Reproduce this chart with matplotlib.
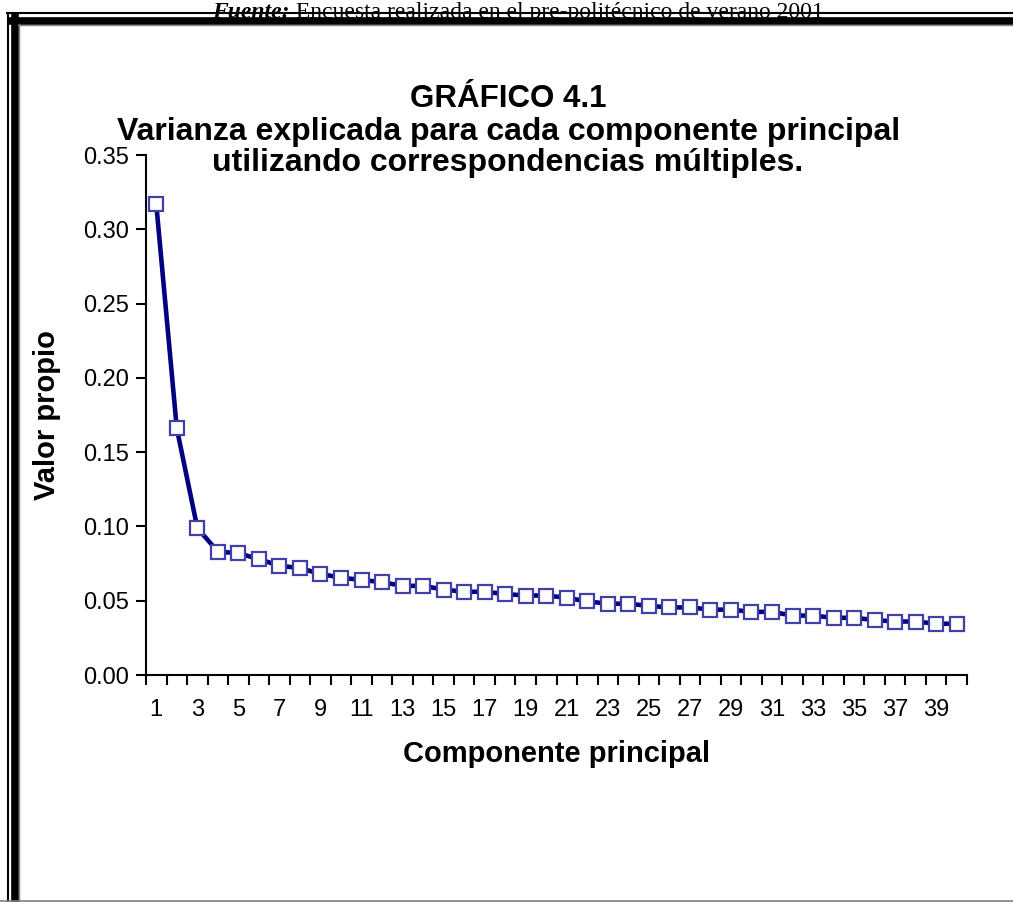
import matplotlib.pyplot as plt
from matplotlib.lines import Line2D
import numpy as np

# Valores propios (componentes 1..40)
componentes = np.arange(1, 41)
valor_propio = [0.317, 0.166, 0.099, 0.083, 0.082, 0.078, 0.0735, 0.072, 0.068, 0.0655,
                0.064, 0.0625, 0.060, 0.060, 0.0575, 0.056, 0.056, 0.0545, 0.0535, 0.0535,
                0.052, 0.0495, 0.048, 0.048, 0.0465, 0.0455, 0.0455, 0.044, 0.044, 0.0425,
                0.0425, 0.040, 0.040, 0.0385, 0.0385, 0.037, 0.036, 0.036, 0.0345, 0.0345]
y_ticks = [0.00, 0.05, 0.10, 0.15, 0.20, 0.25, 0.30, 0.35]
x_labels = list(range(1, 41, 2))

W, H = 1013, 902
plt.rcParams['font.family'] = ['Liberation Sans', 'DejaVu Sans']

fig = plt.figure(figsize=(W / 100, H / 100), dpi=100)
ax = fig.add_axes([146 / W, (H - 675) / H, (967 - 146) / W, (675 - 155) / H])

ax.plot(componentes, valor_propio, color='#000080', linewidth=3.3,
        marker='s', markersize=10, markerfacecolor='white',
        markeredgecolor='#4040a8', markeredgewidth=1.6, zorder=3, clip_on=False)

ax.set_xlim(0.5, 40.5)
ax.set_ylim(0, 0.35)
ax.set_yticks(y_ticks)
ax.set_yticklabels([f"{v:.2f}" for v in y_ticks], fontsize=17)
# ticks between categories, labels on odd categories
ax.set_xticks(np.arange(0.5, 41, 1))
ax.set_xticklabels([])
ax.set_xticks(x_labels, minor=True)
ax.set_xticklabels([str(v) for v in x_labels], minor=True, fontsize=17)
ax.tick_params(axis='x', which='minor', length=0, pad=17)
ax.tick_params(axis='x', which='major', length=7, width=1.5, direction='out')
ax.tick_params(axis='y', length=7, width=1.5, direction='out', pad=5)

for s in ['top', 'right']:
    ax.spines[s].set_visible(False)
for s in ['left', 'bottom']:
    ax.spines[s].set_linewidth(1.5)

ax.set_xlabel("Componente principal", fontsize=21, fontweight='bold', labelpad=14)
ax.set_ylabel("Valor propio", fontsize=21, fontweight='bold', labelpad=16)

fig.text(508 / W, 1 - 99 / H, "GRÁFICO 4.1", ha='center', va='center',
         fontsize=22.5, fontweight='bold')
fig.text(509 / W, 1 - 132 / H, "Varianza explicada para cada componente principal",
         ha='center', va='center', fontsize=23, fontweight='bold')
fig.text(508 / W, 1 - 163 / H, "utilizando correspondencias múltiples.",
         ha='center', va='center', fontsize=23, fontweight='bold')

# fuente, cortada en la parte superior
t1 = fig.text(212 / W, 1 - 18 / H, "Fuente:", ha='left', va='baseline',
              fontsize=17, family='Liberation Serif', fontweight='bold', fontstyle='italic')
fig.add_artist(plt.Annotation(" Encuesta realizada en el pre-politécnico de verano 2001",
                              xy=(1, 0), xycoords=t1, va='bottom', ha='left',
                              fontsize=17, family='Liberation Serif'))

# marco doble
def fl(x0, y0, x1, y1, lw, color='black'):
    fig.add_artist(Line2D([x0 / W, x1 / W], [1 - y0 / H, 1 - y1 / H],
                          color=color, linewidth=lw, transform=fig.transFigure))

fl(7, 13, W, 13, 1.5)
fl(8, 13, 8, H, 1.5)
fl(11, 20.5, W, 20.5, 5.5)
fl(15, 17, 15, H, 5.5)
fl(18, 24.5, W, 24.5, 1, '#808080')
fl(19, 24, 19, H, 1, '#808080')
fl(0, 900.5, W, 900.5, 1.2, '#808080')

fig.savefig("out.png", dpi=100)
